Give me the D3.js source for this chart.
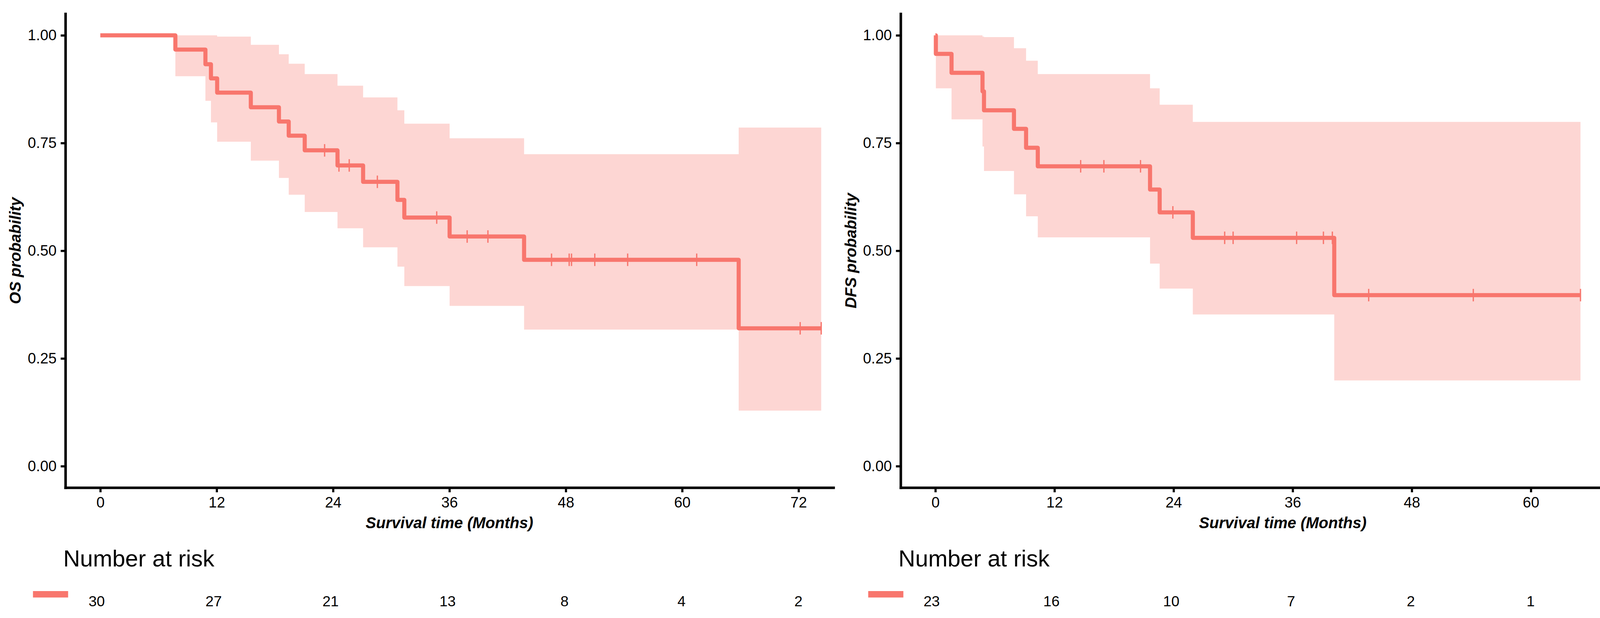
<!DOCTYPE html>
<html>
<head>
<meta charset="utf-8">
<script src="https://cdn.jsdelivr.net/npm/d3@7"></script>
<style>
  html, body { margin: 0; padding: 0; background: #fff; }
  svg { display: block; }
  text { font-family: "Liberation Sans", Arial, sans-serif; }
</style>
</head>
<body>
<svg id="chart" width="4284" height="1583"></svg>
<script>
// ---------------- DATA ----------------
// Overall survival (OS): step times, KM estimate, upper / lower 95% CI
const osTime  = [0, 7.74, 10.84, 11.41, 12.05, 15.52, 18.42, 19.43, 21.08, 24.46, 27.10, 30.64, 31.35, 36.02, 43.70, 65.83];
const osSurv  = [1, 0.967, 0.933, 0.900, 0.867, 0.833, 0.800, 0.767, 0.733, 0.698, 0.660, 0.618, 0.577, 0.533, 0.479, 0.320];
const osUpper = [1, 1.000, 1.000, 1.000, 0.997, 0.978, 0.956, 0.934, 0.910, 0.883, 0.856, 0.826, 0.795, 0.761, 0.724, 0.786];
const osLower = [1, 0.905, 0.848, 0.798, 0.753, 0.709, 0.669, 0.630, 0.590, 0.552, 0.508, 0.463, 0.418, 0.372, 0.317, 0.129];
const osEnd = 74.34;
const osCensor = [23.13, 24.61, 25.67, 28.57, 34.69, 37.83, 39.97, 46.53, 48.35, 48.59, 50.99, 54.38, 61.5, 72.17, 74.34];
const osRiskTimes = [0, 12, 24, 36, 48, 60, 72];
const osRisk = [30, 27, 21, 13, 8, 4, 2];
const osXTicks = [0, 12, 24, 36, 48, 60, 72];

// Disease-free survival (DFS)
const dfsTime  = [0, 0.05, 1.63, 4.75, 4.90, 7.92, 9.14, 10.32, 21.63, 22.60, 25.94, 40.19];
const dfsSurv  = [1, 0.957, 0.913, 0.870, 0.826, 0.783, 0.739, 0.696, 0.642, 0.589, 0.530, 0.397];
const dfsUpper = [1, 1.000, 1.000, 0.997, 0.996, 0.970, 0.941, 0.910, 0.877, 0.839, 0.799, 0.799];
const dfsLower = [1, 0.877, 0.805, 0.742, 0.685, 0.631, 0.580, 0.531, 0.470, 0.412, 0.352, 0.199];
const dfsEnd = 65.0;
const dfsCensor = [14.64, 16.98, 20.67, 23.93, 29.15, 30.0, 36.4, 39.1, 40.0, 43.66, 54.2, 65.0];
const dfsRiskTimes = [0, 12, 24, 36, 48, 60];
const dfsRisk = [23, 16, 10, 7, 2, 1];
const dfsXTicks = [0, 12, 24, 36, 48, 60];

const yTicks = [0, 0.25, 0.5, 0.75, 1];

// ---------------- STYLE / LAYOUT ----------------
const lineColor = "#F8766D";
const svg = d3.select("#chart");

const panels = [
  { time: osTime, surv: osSurv, upper: osUpper, lower: osLower, end: osEnd, censor: osCensor,
    riskTimes: osRiskTimes, risk: osRisk, xTicks: osXTicks, ylab: "OS probability",
    xDomain: [-3.6, 75.6], xRange: [167.4, 2133.6], riskRange: [247.5, 2044], riskDomain: [0, 72] },
  { time: dfsTime, surv: dfsSurv, upper: dfsUpper, lower: dfsLower, end: dfsEnd, censor: dfsCensor,
    riskTimes: dfsRiskTimes, risk: dfsRisk, xTicks: dfsXTicks, ylab: "DFS probability",
    xDomain: [-3.5, 73.5], xRange: [2305.6, 4262], riskRange: [2385, 3918.5], riskDomain: [0, 60] }
];

const y = d3.scaleLinear().domain([-0.05, 1.05]).range([1249.2, 35.3]);
const axisY = 1249;

panels.forEach(p => {
  const x = d3.scaleLinear().domain(p.xDomain).range(p.xRange);
  const g = svg.append("g");

  const pts = p.time.map((t, i) => ({ t, s: p.surv[i], u: p.upper[i], l: p.lower[i] }));
  const last = pts[pts.length - 1];
  pts.push({ t: p.end, s: last.s, u: last.u, l: last.l });

  // confidence band
  const area = d3.area()
    .curve(d3.curveStepAfter)
    .x(d => x(d.t))
    .y0(d => y(d.l))
    .y1(d => y(d.u));
  g.append("path").datum(pts)
    .attr("d", area)
    .attr("fill", lineColor)
    .attr("fill-opacity", 0.3)
    .attr("stroke", "none");

  // survival curve
  const line = d3.line()
    .curve(d3.curveStepAfter)
    .x(d => x(d.t))
    .y(d => y(d.s));
  g.append("path").datum(pts)
    .attr("d", line)
    .attr("fill", "none")
    .attr("stroke", lineColor)
    .attr("stroke-width", 10.5)
    .attr("stroke-linejoin", "round")
    .attr("stroke-linecap", "butt");

  // censor marks (vertical ticks)
  const survAt = t => p.surv[Math.max(0, d3.bisectRight(p.time, t) - 1)];
  const h = 16;
  g.selectAll("path.censor").data(p.censor).join("path")
    .attr("class", "censor")
    .attr("d", t => {
      const cx = x(t), cy = y(survAt(t));
      return `M${cx},${cy - h}V${cy + h}`;
    })
    .attr("stroke", lineColor)
    .attr("stroke-width", 3.3)
    .attr("fill", "none");

  // axes
  const xAxis = d3.axisBottom(x).tickValues(p.xTicks).tickFormat(d3.format("d"))
    .tickSize(12).tickSizeOuter(0).tickPadding(11.8);
  const gx = svg.append("g").attr("transform", `translate(0,${axisY})`).call(xAxis);
  const yAxis = d3.axisLeft(y).tickValues(yTicks).tickFormat(d3.format(".2f"))
    .tickSize(12).tickSizeOuter(0).tickPadding(10.4);
  const gy = svg.append("g").attr("transform", `translate(${p.xRange[0]},0)`).call(yAxis);

  [gx, gy].forEach(ax => {
    ax.select(".domain").attr("stroke", "#000").attr("stroke-width", 6.5).attr("stroke-linecap", "square");
    ax.selectAll(".tick line").attr("stroke", "#000").attr("stroke-width", 5.5);
    ax.selectAll(".tick text").attr("fill", "#000").attr("font-size", 38)
      .attr("font-family", "'Liberation Sans', Arial, sans-serif");
  });

  // axis titles
  svg.append("text")
    .attr("x", (p.xRange[0] + p.xRange[1]) / 2)
    .attr("y", 1353)
    .attr("text-anchor", "middle")
    .attr("font-size", 40)
    .attr("font-weight", "bold")
    .attr("font-style", "italic")
    .text("Survival time (Months)");

  const ylx = p.xRange[0] - 114, yly = (y.range()[0] + y.range()[1]) / 2;
  svg.append("text")
    .attr("transform", `translate(${ylx},${yly}) rotate(-90)`)
    .attr("text-anchor", "middle")
    .attr("font-size", 40)
    .attr("font-weight", "bold")
    .attr("font-style", "italic")
    .text(p.ylab);

  // Number at risk table
  svg.append("text")
    .attr("x", p.xRange[0] - 5.5)
    .attr("y", 1451)
    .attr("font-size", 59.5)
    .attr("fill", "#000")
    .text("Number at risk");

  svg.append("rect")
    .attr("x", p.xRange[0] - 83)
    .attr("y", 1514)
    .attr("width", 90)
    .attr("height", 16.5)
    .attr("fill", lineColor);

  const xr = d3.scaleLinear().domain(p.riskDomain).range(p.riskRange);
  svg.append("g").selectAll("text").data(p.riskTimes).join("text")
    .attr("x", t => xr(t))
    .attr("y", 1553)
    .attr("text-anchor", "middle")
    .attr("font-size", 37.5)
    .attr("fill", "#000")
    .text((t, i) => p.risk[i]);
});
</script>
</body>
</html>
